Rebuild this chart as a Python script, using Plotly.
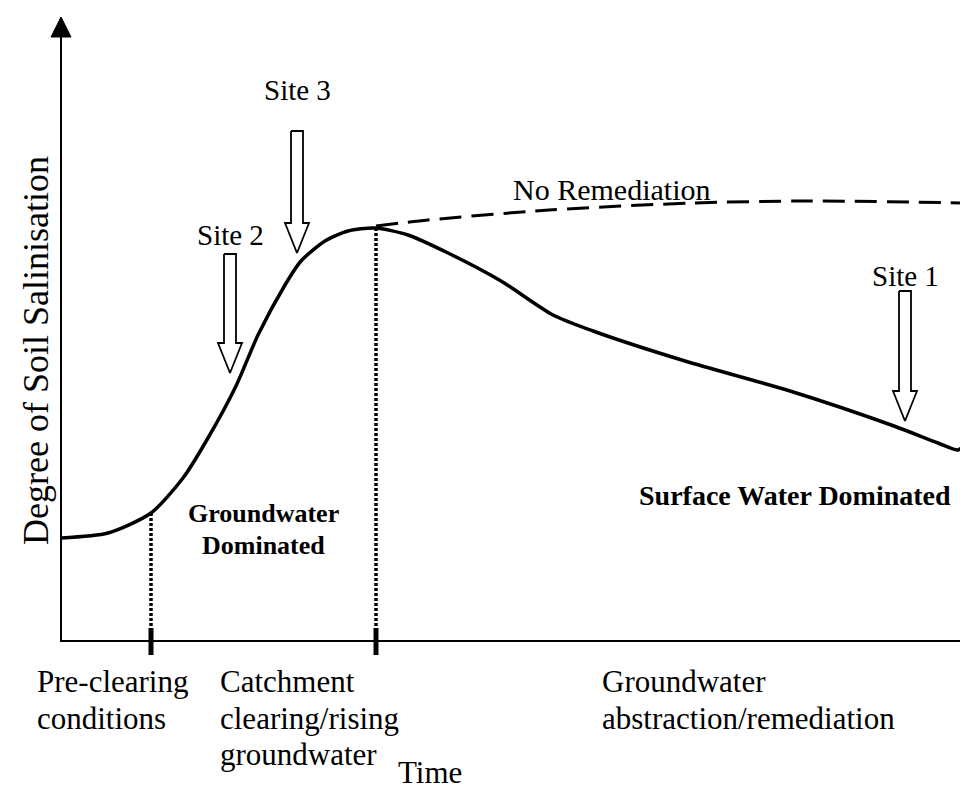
import plotly.graph_objects as go

# conceptual salinisation curve (time units, salinisation units; origin at axis corner)
time_pts = [0, 47, 90, 122, 147, 175, 197, 224, 240, 264, 287, 314,
            347, 387, 440, 492, 532, 624, 729, 833, 877, 897, 903]
salin_pts = [103, 108, 128, 163, 203, 255, 306, 356, 380, 400, 410, 413,
             406, 388, 360, 326, 310, 280, 250, 215, 198, 191, 196]

# "no remediation" branch
noremed_time = [315, 367, 488, 632, 747, 905]
noremed_salin = [415, 421, 431, 438, 440, 438]

# phase boundaries (pre-clearing end, peak)
phase_time = [90, 315]
phase_salin = [128, 413]

# site arrows: tip position and top of shaft
sites = ["Site 3", "Site 2", "Site 1"]
site_tip_t = [236, 169, 844]
site_tip_s = [388, 268, 220]
site_top_s = [510, 387, 350]
site_label_s = [551, 406, 365]

phase_labels = [
    ["Pre-clearing", "conditions"],
    ["Catchment", "clearing/rising", "groundwater"],
    ["Groundwater", "abstraction/remediation"],
]
phase_label_t = [-26, 157, 539]

FONT = "Liberation Serif, Times New Roman, serif"
X_END = 915
Y_TOP = 624

fig = go.Figure()

# axes with arrowheads
fig.add_trace(go.Scatter(x=[0, 0, X_END - 12], y=[Y_TOP - 20, 0, 0], mode="lines",
                         line=dict(color="black", width=2), hoverinfo="skip"))
fig.add_trace(go.Scatter(x=[-10, 10, 0, -10], y=[Y_TOP - 20, Y_TOP - 20, Y_TOP, Y_TOP - 20],
                         mode="lines", fill="toself", fillcolor="black",
                         line=dict(color="black", width=1), hoverinfo="skip"))
fig.add_trace(go.Scatter(x=[X_END - 12, X_END - 12, X_END, X_END - 12], y=[-7, 7, 0, -7],
                         mode="lines", fill="toself", fillcolor="black",
                         line=dict(color="black", width=1), hoverinfo="skip"))

# dotted phase boundaries + thick ticks
for t, s in zip(phase_time, phase_salin):
    fig.add_trace(go.Scatter(x=[t, t], y=[0, s], mode="lines",
                             line=dict(color="black", width=3.5, dash="3px,2px"),
                             hoverinfo="skip"))
    fig.add_trace(go.Scatter(x=[t, t], y=[-14, 13], mode="lines",
                             line=dict(color="black", width=5), hoverinfo="skip"))

# no remediation dashed curve
fig.add_trace(go.Scatter(x=noremed_time, y=noremed_salin, mode="lines",
                         line=dict(color="black", width=3, dash="22px,10px", shape="spline",
                                   smoothing=0.8),
                         hoverinfo="skip"))

# main curve
fig.add_trace(go.Scatter(x=time_pts, y=salin_pts, mode="lines",
                         line=dict(color="black", width=3.5, shape="spline", smoothing=0.7),
                         hoverinfo="skip"))

# hollow site arrows
for name, tt, ts, top, ls in zip(sites, site_tip_t, site_tip_s, site_top_s, site_label_s):
    hw, hh, hl = 6, 12, 30
    xs = [tt - hw, tt + hw, tt + hw, tt + hh, tt, tt - hh, tt - hw, tt - hw]
    ys = [top, top, ts + hl, ts + hl, ts, ts + hl, ts + hl, top]
    fig.add_trace(go.Scatter(x=xs, y=ys, mode="lines", fill="toself", fillcolor="white",
                             line=dict(color="black", width=1.8), hoverinfo="skip"))
    fig.add_annotation(x=tt, y=ls, text=name, showarrow=False,
                       font=dict(family=FONT, size=29, color="black"))

fig.add_annotation(x=550, y=452, text="No Remediation", showarrow=False,
                   font=dict(family=FONT, size=30, color="black"))

fig.add_annotation(x=202, y=128, text="<b>Groundwater</b>", showarrow=False,
                   font=dict(family=FONT, size=26, color="black"))
fig.add_annotation(x=202, y=96, text="<b>Dominated</b>", showarrow=False,
                   font=dict(family=FONT, size=26, color="black"))
fig.add_annotation(x=892, y=146, text="<b>Surface Water Dominated</b>", showarrow=False,
                   xanchor="right", font=dict(family=FONT, size=28, color="black"))

# phase labels under the time axis
line_s = [-40, -77, -113]
for lines, t in zip(phase_labels, phase_label_t):
    for txt, s in zip(lines, line_s):
        fig.add_annotation(x=t, y=s, text=txt, showarrow=False, xanchor="left",
                           font=dict(family=FONT, size=31, color="black"))

fig.add_annotation(x=335, y=-131, text="Time", showarrow=False, xanchor="left",
                   font=dict(family=FONT, size=31, color="black"))
fig.add_annotation(x=-25, y=290, text="Degree of Soil Salinisation", showarrow=False,
                   textangle=-90, font=dict(family=FONT, size=36, color="black"))

fig.update_layout(
    width=968, height=790,
    margin=dict(l=0, r=0, t=0, b=0),
    paper_bgcolor="white", plot_bgcolor="white",
    showlegend=False,
    xaxis=dict(range=[-53, 915], visible=False, fixedrange=True),
    yaxis=dict(range=[-157, 633], visible=False, fixedrange=True),
)

fig.write_html("out.html")
